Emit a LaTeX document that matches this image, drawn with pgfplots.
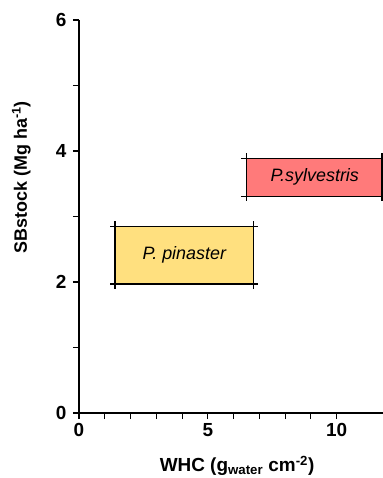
\documentclass[border=0pt]{standalone}
\usepackage{fontspec}
\setmainfont{Liberation Sans}
\usepackage{pgfplots}
\pgfplotsset{compat=1.18}
\definecolor{pinY}{HTML}{FFE07F}
\definecolor{sylR}{HTML}{FF7A7A}
\begin{document}
\begin{tikzpicture}
\begin{axis}[
  scale only axis,
  width=304bp, height=393bp,
  xmin=0, xmax=11.8, ymin=0, ymax=6,
  axis x line=bottom, axis y line=left,
  axis line style={-, line width=1.2pt},
  tick align=outside,
  major tick length=6bp, minor tick length=6bp,
  every tick/.style={black, line width=1.1pt},
  xtick={0,5,10}, minor x tick num=4,
  ytick={0,2,4,6}, minor y tick num=1,
  tick label style={font=\fontsize{19}{22}\selectfont\bfseries},
  /pgf/number format/assume math mode=true,
  xticklabel style={yshift=-1bp},
  yticklabel style={xshift=-3bp},
  xlabel={WHC (g\textsubscript{water} cm\textsuperscript{-2})},
  ylabel={SBstock (Mg ha\textsuperscript{-1})},
  xlabel style={font=\fontsize{19}{22}\selectfont\bfseries, at={(axis description cs:0.52,0)}, anchor=center, yshift=-53bp},
  ylabel style={font=\fontsize{18}{21}\selectfont\bfseries, at={(axis description cs:-0.19,0.6)}, anchor=center},
  clip=true,
]
\addplot[fill=pinY, draw=black, line width=1.2pt] coordinates {(1.40,1.97) (6.77,1.97) (6.77,2.85) (1.40,2.85)} -- cycle;
\addplot[fill=sylR, draw=black, line width=1.2pt] coordinates {(6.49,3.31) (11.76,3.31) (11.76,3.89) (6.49,3.89)} -- cycle;
\addplot[only marks, mark=+, mark size=5bp, mark options={line width=1.2pt}] coordinates {(1.40,1.97) (6.77,1.97) (6.77,2.85) (1.40,2.85)};
\addplot[only marks, mark=+, mark size=5bp, mark options={line width=1.2pt}] coordinates {(6.49,3.31) (11.76,3.31) (11.76,3.89) (6.49,3.89)};
\node[font=\fontsize{18}{21}\selectfont\itshape] at (axis cs:4.09,2.41) {P. pinaster};
\node[font=\fontsize{18}{21}\selectfont\itshape] at (axis cs:9.15,3.60) {P.sylvestris};
\end{axis}
\pgfresetboundingbox
\path (-79bp,-65bp) rectangle (304bp,413bp);
\end{tikzpicture}
\end{document}
